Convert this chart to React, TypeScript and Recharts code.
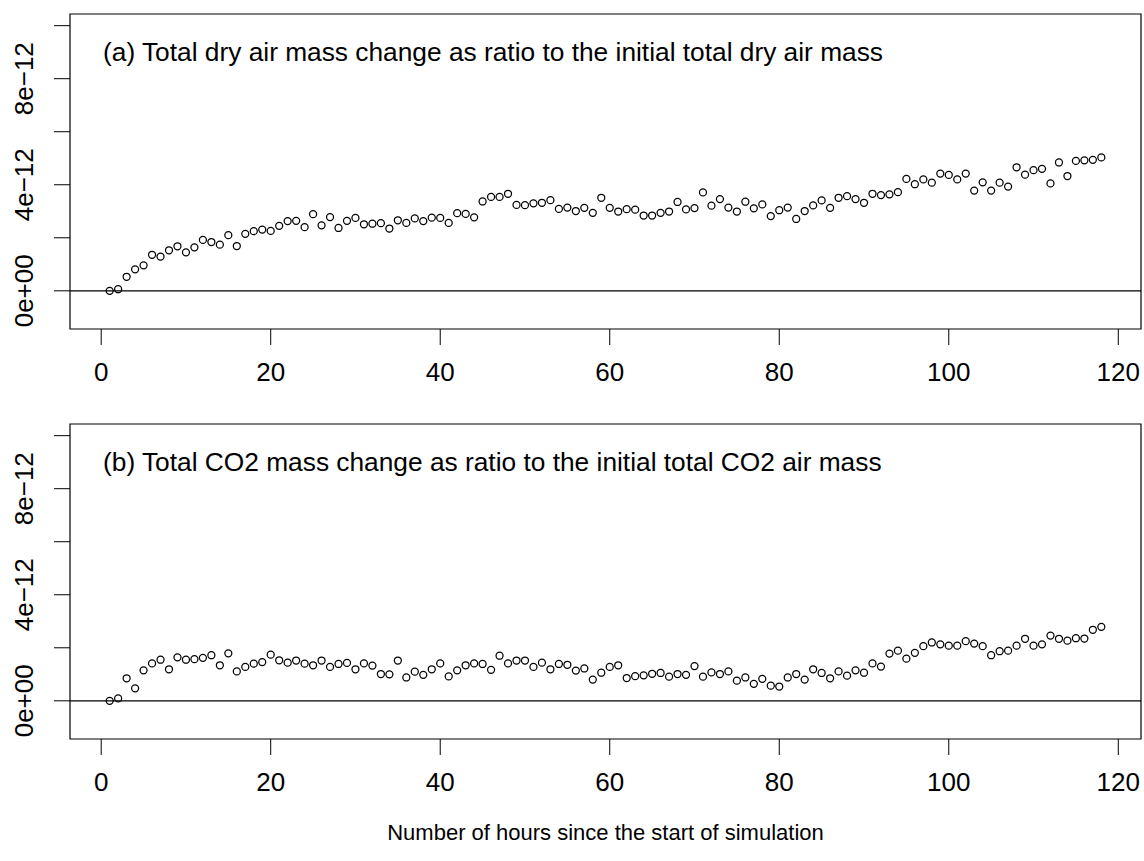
import React from 'react';
import { ScatterChart, Scatter, XAxis, YAxis, ReferenceLine, ReferenceArea } from 'recharts';

// hours since the start of the simulation
const hours = [
  1, 2, 3, 4, 5, 6, 7, 8, 9, 10, 11, 12, 13, 14, 15, 16, 17, 18, 19, 20,
  21, 22, 23, 24, 25, 26, 27, 28, 29, 30, 31, 32, 33, 34, 35, 36, 37, 38, 39, 40,
  41, 42, 43, 44, 45, 46, 47, 48, 49, 50, 51, 52, 53, 54, 55, 56, 57, 58, 59, 60,
  61, 62, 63, 64, 65, 66, 67, 68, 69, 70, 71, 72, 73, 74, 75, 76, 77, 78, 79, 80,
  81, 82, 83, 84, 85, 86, 87, 88, 89, 90, 91, 92, 93, 94, 95, 96, 97, 98, 99, 100,
  101, 102, 103, 104, 105, 106, 107, 108, 109, 110, 111, 112, 113, 114, 115, 116, 117, 118,
];

// ratios, in units of 1e-12
const dryAirRatio = [
  0, 0.06, 0.53, 0.81, 0.96, 1.36, 1.29, 1.53, 1.68, 1.45,
  1.64, 1.92, 1.84, 1.74, 2.1, 1.69, 2.15, 2.25, 2.31, 2.26,
  2.45, 2.63, 2.64, 2.4, 2.89, 2.47, 2.78, 2.37, 2.64, 2.75,
  2.51, 2.53, 2.55, 2.35, 2.66, 2.56, 2.73, 2.63, 2.76, 2.75,
  2.56, 2.93, 2.9, 2.77, 3.37, 3.54, 3.54, 3.66, 3.24, 3.23,
  3.3, 3.32, 3.42, 3.09, 3.14, 3.01, 3.13, 2.94, 3.51, 3.13,
  2.99, 3.08, 3.06, 2.84, 2.84, 2.94, 2.99, 3.35, 3.07, 3.12,
  3.71, 3.21, 3.46, 3.14, 2.99, 3.36, 3.11, 3.26, 2.82, 3.04,
  3.14, 2.71, 3.01, 3.22, 3.41, 3.13, 3.51, 3.57, 3.46, 3.32,
  3.66, 3.61, 3.64, 3.72, 4.22, 4.02, 4.2, 4.08, 4.42, 4.37,
  4.2, 4.42, 3.78, 4.09, 3.78, 4.08, 3.93, 4.66, 4.38, 4.55,
  4.6, 4.05, 4.84, 4.33, 4.9, 4.92, 4.94, 5.03,
];

const co2Ratio = [
  0, 0.09, 0.85, 0.47, 1.15, 1.41, 1.55, 1.19, 1.64, 1.55,
  1.57, 1.62, 1.72, 1.34, 1.79, 1.11, 1.28, 1.4, 1.46, 1.74,
  1.53, 1.44, 1.52, 1.4, 1.34, 1.52, 1.28, 1.39, 1.43, 1.19,
  1.41, 1.33, 1.01, 1.0, 1.52, 0.88, 1.1, 0.98, 1.19, 1.41,
  0.92, 1.15, 1.34, 1.41, 1.39, 1.17, 1.7, 1.41, 1.52, 1.52,
  1.28, 1.44, 1.19, 1.39, 1.36, 1.14, 1.22, 0.8, 1.06, 1.28,
  1.34, 0.86, 0.93, 0.96, 1.02, 1.05, 0.91, 1.01, 0.98, 1.31,
  0.91, 1.07, 1.01, 1.11, 0.76, 0.88, 0.64, 0.83, 0.57, 0.54,
  0.88, 1.01, 0.8, 1.19, 1.05, 0.85, 1.11, 0.95, 1.15, 1.06,
  1.41, 1.29, 1.78, 1.89, 1.59, 1.81, 2.06, 2.2, 2.13, 2.08,
  2.08, 2.25, 2.16, 2.06, 1.72, 1.87, 1.89, 2.08, 2.34, 2.08,
  2.13, 2.46, 2.34, 2.27, 2.36, 2.35, 2.68, 2.79,
];

const xTicks = [0, 20, 40, 60, 80, 100, 120];
const yTicks = [0, 2, 4, 6, 8, 10];
const yTickLabels: Record<number, string> = { 0: '0e+00', 4: '4e\u221212', 8: '8e\u221212' };

// R style 4% padding around xlim = range(hours), ylim = c(-1, 10)
const xDomain = [1 - 0.04 * 117, 118 + 0.04 * 117];
const yDomain = [-1 - 0.04 * 11, 10 + 0.04 * 11];

const FONT = '"Liberation Sans", Arial, Helvetica, sans-serif';
const FS = 26;

const W = 1144;
const H = 410;

function YTick(props: any) {
  const { x, y, payload } = props;
  const label = yTickLabels[payload.value] ?? '';
  return (
    <text
      x={x}
      y={y}
      transform={`rotate(-90 ${x} ${y})`}
      textAnchor="middle"
      fontSize={FS}
      fontFamily={FONT}
      fill="#000"
    >
      {label}
    </text>
  );
}

function XTick(props: any) {
  const { x, y, payload } = props;
  return (
    <text x={x} y={y} dy="0.71em" textAnchor="middle" fontSize={FS} fontFamily={FONT} fill="#000">
      {payload.value}
    </text>
  );
}

const Ring = (props: any) => (
  <circle cx={props.cx} cy={props.cy} r={3.5} fill="none" stroke="#000" strokeWidth={1.25} />
);

function Panel({ values, title, top }: { values: number[]; title: string; top: number }) {
  const data = hours.map((h, i) => ({ x: h, y: values[i] }));
  return (
    <div style={{ position: 'absolute', left: 0, top, width: W, height: H }}>
      <ScatterChart width={W} height={H} margin={{ top: 14, right: 3, bottom: 21, left: 0 }}>
        <XAxis
          type="number"
          dataKey="x"
          domain={xDomain}
          allowDataOverflow
          ticks={xTicks}
          interval={0}
          axisLine={false}
          tickSize={16}
          tickMargin={18}
          tickLine={{ stroke: '#000' }}
          tick={<XTick />}
          height={60}
        />
        <YAxis
          type="number"
          dataKey="y"
          domain={yDomain}
          allowDataOverflow
          ticks={yTicks}
          interval={0}
          axisLine={false}
          tickSize={16}
          tickMargin={21}
          tickLine={{ stroke: '#000' }}
          tick={<YTick />}
          width={70}
        />
        <ReferenceArea
          x1={xDomain[0]}
          x2={xDomain[1]}
          y1={yDomain[0]}
          y2={yDomain[1]}
          fill="none"
          fillOpacity={0}
          stroke="#000"
          strokeWidth={1.2}
          ifOverflow="visible"
        />
        <ReferenceLine y={0} stroke="#000" strokeWidth={1.2} />
        <Scatter data={data} shape={<Ring />} isAnimationActive={false} />
      </ScatterChart>
      <div
        style={{
          position: 'absolute',
          left: 103,
          top: 39,
          fontFamily: FONT,
          fontSize: 26.3,
          lineHeight: `${FS}px`,
          whiteSpace: 'nowrap',
          color: '#000',
        }}
      >
        {title}
      </div>
    </div>
  );
}

export default function App() {
  return (
    <div style={{ position: 'relative', width: W, height: 861, background: '#fff', overflow: 'hidden' }}>
      <style>{'body{margin:0;}'}</style>
      <Panel values={dryAirRatio} top={0} title="(a) Total dry air mass change as ratio to the initial total dry air mass" />
      <Panel values={co2Ratio} top={410} title="(b) Total CO2 mass change as ratio to the initial total CO2 air mass" />
      <div
        style={{
          position: 'absolute',
          left: 70,
          width: 1071,
          top: 822,
          textAlign: 'center',
          fontFamily: FONT,
          fontSize: 22,
          lineHeight: '22px',
          color: '#000',
        }}
      >
        Number of hours since the start of simulation
      </div>
    </div>
  );
}
